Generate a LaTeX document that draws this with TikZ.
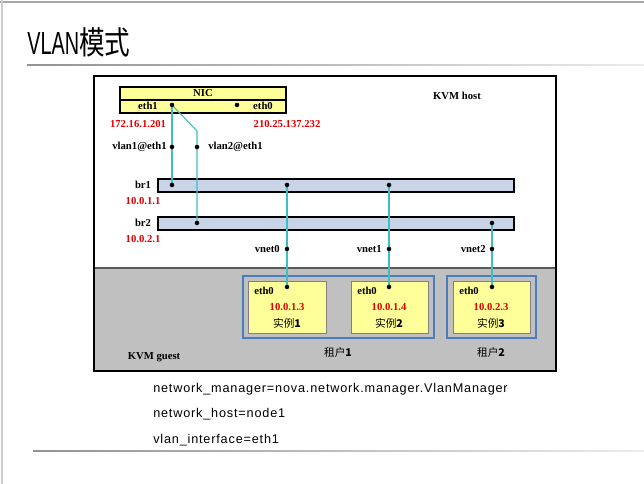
\documentclass[tikz,border=0pt]{standalone}
\usepackage{fontspec}
\setmainfont{Liberation Serif}
\newfontfamily\cjk{Noto Sans CJK SC}
\newfontfamily\titlefont[FakeStretch=0.62]{Liberation Sans}
\newfontfamily\titlecjk[FakeStretch=0.8]{Noto Sans CJK SC}
\newfontfamily\cfgfont[LetterSpace=6.5]{Liberation Sans}
\usetikzlibrary{positioning}

\definecolor{nicyellow}{HTML}{FFFF99}
\definecolor{brblue}{HTML}{C9D4E6}
\definecolor{guestgray}{HTML}{C0C0C0}
\definecolor{tenantblue}{HTML}{4A7EBB}
\definecolor{linkcyan}{HTML}{3CBFC0}
\definecolor{ipred}{HTML}{E00000}

\tikzset{
  lbl/.style={font=\bfseries\fontsize{8}{9}\selectfont, inner sep=0pt},
  ip/.style={lbl, text=ipred},
  cjklbl/.style={font=\cjk\fontsize{8}{9}\selectfont, inner sep=0pt},
  link/.style={draw=linkcyan, line width=0.8pt},
  bridge/.style={draw=black, line width=1.2pt, fill=brblue},
  tenant/.style={draw=tenantblue, line width=2.2pt},
  inst/.style={draw=gray, line width=0.6pt, fill=nicyellow},
  cfg/.style={font=\cfgfont\fontsize{9.5}{11}\selectfont, inner sep=0pt, anchor=base west},
}

\begin{document}
\begin{tikzpicture}[x=0.75pt, y=-0.75pt]
\useasboundingbox (0,0) rectangle (644,484);

% slide frame and rules
\draw[gray!70, line width=1pt] (0,2) -- (644,2);
\draw[gray!40, line width=0.8pt] (2,0) -- (2,484);
\shade[left color=gray!85, right color=gray!15] (27,64.5) rectangle (644,66);
\shade[left color=gray!85, right color=gray!15] (33,450.3) rectangle (644,451.6);
\node[anchor=base west, inner sep=0pt, font=\fontsize{24}{26}\selectfont] (title) at (27,55)
  {\titlefont VLAN\titlecjk 模式};

% guest area and host box
\fill[guestgray] (94,268) rectangle (556,371);
\draw[gray!70!black, line width=0.8pt] (94,268) -- (556,268);
\draw[black, line width=1.5pt] (94,76) rectangle (556,371);
\node[lbl] (host) at (457,96) {KVM host};
\node[lbl] (guest) at (154,357) {KVM guest};

% NIC
\draw[fill=nicyellow, line width=1.1pt] (120,87) rectangle (286,113);
\draw[line width=1.1pt] (120,100) -- (286,100);
\node[lbl] (nic) at (203,93.5) {NIC};
\node[lbl] (eth1txt) at (148,106) {eth1};
\node[lbl] (eth0txt) at (263,106) {eth0};
\node[ip] (ip1) at (138,124) {172.16.1.201};
\node[ip] (ip0) at (287,124) {210.25.137.232};

% bridges
\draw[bridge] (158,179) rectangle (514,192);
\draw[bridge] (158,217) rectangle (514,230);
\node[lbl] (br1) at (143,185) {br1};
\node[lbl] (br2) at (143,223) {br2};
\node[ip] (brip1) at (143,201) {10.0.1.1};
\node[ip] (brip2) at (143,239) {10.0.2.1};

% tenants and instances
\draw[tenant] (243,276) rectangle (434,338);
\draw[tenant] (447,276) rectangle (536,338);
\draw[inst] (248,281) rectangle (326,333);
\draw[inst] (351,281) rectangle (428,333);
\draw[inst] (453,281) rectangle (530,333);
\node[lbl, anchor=west] (g1eth) at (254,291) {eth0};
\node[lbl, anchor=west] (g2eth) at (357,291) {eth0};
\node[lbl, anchor=west] (g3eth) at (459,291) {eth0};
\node[ip] (gip1) at (287,307) {10.0.1.3};
\node[ip] (gip2) at (389,307) {10.0.1.4};
\node[ip] (gip3) at (491,307) {10.0.2.3};
\node[cjklbl] (vm1) at (287,323) {实例\textbf{1}};
\node[cjklbl] (vm2) at (389,323) {实例\textbf{2}};
\node[cjklbl] (vm3) at (491,323) {实例\textbf{3}};
\node[cjklbl] (t1) at (338,352) {租户\textbf{1}};
\node[cjklbl] (t2) at (491,352) {租户\textbf{2}};

% ports
\coordinate (eth1) at (172,105);
\coordinate (eth0) at (237,105);
\coordinate (vlan1) at (172,147);
\coordinate (vlan2) at (197,147);
\coordinate (bend) at (197,131);
\coordinate (br1a) at (172,185);
\coordinate (br1b) at (287,185);
\coordinate (br1c) at (389,185);
\coordinate (br2a) at (197,223);
\coordinate (br2b) at (492,223);
\coordinate (vnet0) at (287,249);
\coordinate (vnet1) at (389,249);
\coordinate (vnet2) at (492,249);
\coordinate (if1) at (287,287);
\coordinate (if2) at (389,287);
\coordinate (if3) at (492,287);

\node[lbl, anchor=east] (vl1txt) at (167,147) {vlan1@eth1};
\node[lbl, anchor=west] (vl2txt) at (208,147) {vlan2@eth1};
\node[lbl, anchor=east] (vn0txt) at (280,249) {vnet0};
\node[lbl, anchor=east] (vn1txt) at (382,249) {vnet1};
\node[lbl, anchor=east] (vn2txt) at (486,249) {vnet2};

% links
\draw[link] (eth1) -- (vlan1) -- (br1a);
\draw[link] (eth1) -- (bend) -- (vlan2) -- (br2a);
\draw[link] (br1b) -- (vnet0) -- (if1);
\draw[link] (br1c) -- (vnet1) -- (if2);
\draw[link] (br2b) -- (vnet2) -- (if3);

\foreach \p in {eth1,eth0,vlan1,vlan2,br1a,br1b,br1c,br2a,br2b,vnet0,vnet1,vnet2,if1,if2,if3}
  \fill (\p) circle[radius=1.7pt];

% settings
\node[cfg] (cfg1) at (153,393) {network\_manager=nova.network.manager.VlanManager};
\node[cfg] (cfg2) at (153,418) {network\_host=node1};
\node[cfg] (cfg3) at (153,444) {vlan\_interface=eth1};
\end{tikzpicture}
\end{document}
